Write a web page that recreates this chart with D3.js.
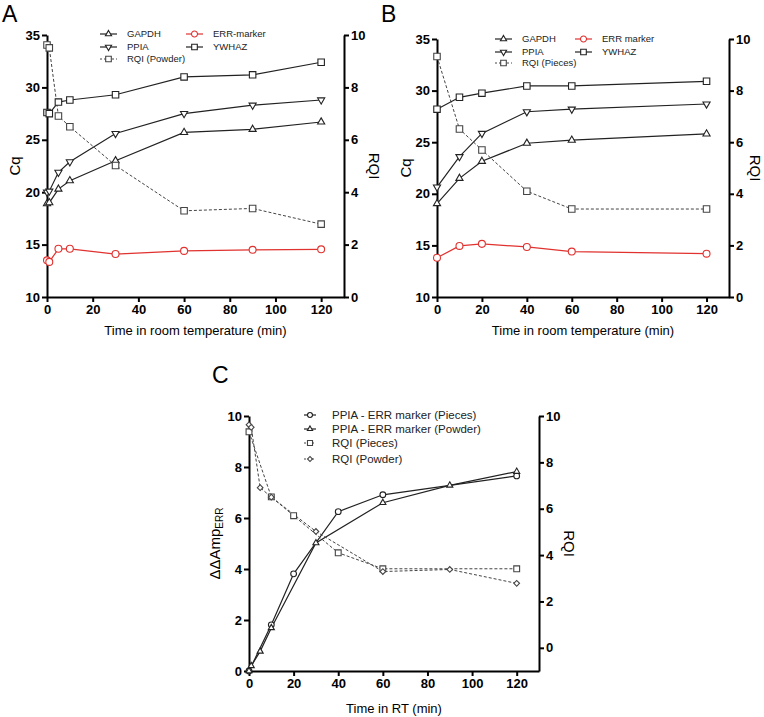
<!DOCTYPE html>
<html>
<head>
<meta charset="utf-8">
<script src="https://cdn.jsdelivr.net/npm/d3@7"></script>
<style>
  body { margin: 0; background: #fff; }
  svg { font-family: "Liberation Sans", Arial, sans-serif; }
</style>
</head>
<body>
<div id="graph"></div>
<script>
// time points (min)
const timesA = [0, 1, 5, 10, 30, 60, 90, 120];
const timesB = [0, 10, 20, 40, 60, 120];

// panel A, powder (Cq)
const gapdhA = [18.9, 19.0, 20.3, 21.1, 23.0, 25.7, 26.0, 26.7];
const ppiaA  = [20.0, 20.1, 21.9, 22.9, 25.6, 27.5, 28.3, 28.8];
const ywhazA = [27.6, 27.5, 28.6, 28.8, 29.3, 31.0, 31.2, 32.4];
const errA   = [13.5, 13.35, 14.6, 14.6, 14.1, 14.4, 14.5, 14.55];
const rqiPowder = [9.62, 9.51, 6.91, 6.5, 5.02, 3.29, 3.38, 2.78];

// panel B, pieces (Cq)
const gapdhB = [19.05, 21.5, 23.15, 24.9, 25.2, 25.8];
const ppiaB  = [20.65, 23.6, 25.85, 27.95, 28.2, 28.7];
const ywhazB = [28.2, 29.35, 29.75, 30.45, 30.45, 30.9];
const errB   = [13.8, 14.95, 15.15, 14.85, 14.4, 14.2];
const rqiPieces = [9.32, 6.51, 5.7, 4.1, 3.41, 3.41];

// panel C, delta delta Amp
const ddAmpPieces = [0, 1.81, 3.81, 6.25, 6.91, 7.65];
const ddAmpPowder = [0, 0.2, 0.77, 1.69, 5.02, 6.6, 7.28, 7.82];

const xTicks = [0, 20, 40, 60, 80, 100, 120];
const cqTicks = [10, 15, 20, 25, 30, 35];
const rqiTicks = [0, 2, 4, 6, 8, 10];
const ampTicks = [0, 2, 4, 6, 8, 10];

const red = "#e0322f";
const svg = d3.select("#graph").append("svg").attr("width", 764).attr("height", 717);

function symbolPath(kind, size) {
  const types = { up: d3.symbolTriangle, down: d3.symbolTriangle, square: d3.symbolSquare,
                  circle: d3.symbolCircle, diamond: d3.symbolSquare };
  return d3.symbol().type(types[kind]).size(size)();
}

function drawMarker(g, kind, size, cx, cy, color) {
  let rot = "";
  if (kind == "down") rot = " rotate(180)";
  if (kind == "diamond") rot = " rotate(45)";
  g.append("path")
    .attr("d", symbolPath(kind, size))
    .attr("transform", `translate(${cx},${cy})` + rot)
    .attr("fill", "#fff")
    .attr("stroke", color)
    .attr("stroke-width", 1.1);
}

function styleAxis(a) {
  a.selectAll(".domain").attr("stroke", "#000").attr("stroke-width", 2);
  a.selectAll(".tick line").attr("stroke", "#000").attr("stroke-width", 2);
  a.selectAll(".tick text").attr("fill", "#000").attr("font-size", 13).attr("font-weight", "bold");
}

function drawPanel(p) {
  const g = svg.append("g");
  const x = d3.scaleLinear().domain([0, 130]).range([p.left, p.right]);
  const yL = d3.scaleLinear().domain(p.leftDomain).range([p.bottom, p.top]);
  const yR = d3.scaleLinear().domain(p.rightDomain).range([p.bottom, p.top]);

  styleAxis(g.append("g").attr("transform", `translate(0,${p.bottom})`)
    .call(d3.axisBottom(x).tickValues(xTicks).tickSize(5).tickSizeOuter(0).tickPadding(3)));
  styleAxis(g.append("g").attr("transform", `translate(${p.left},0)`)
    .call(d3.axisLeft(yL).tickValues(p.leftTicks).tickSize(5).tickSizeOuter(0).tickPadding(2)));
  styleAxis(g.append("g").attr("transform", `translate(${p.right},0)`)
    .call(d3.axisRight(yR).tickValues(rqiTicks).tickSize(5).tickSizeOuter(0).tickPadding(2)));

  // series
  p.series.forEach(s => {
    const y = s.axis == "right" ? yR : yL;
    const pts = s.x.map((t, i) => [x(t), y(s.y[i])]);
    g.append("path")
      .attr("d", d3.line()(pts))
      .attr("fill", "none")
      .attr("stroke", s.color)
      .attr("stroke-width", s.dash ? 1 : 1.2)
      .attr("stroke-dasharray", s.dash ? "3,2" : null);
  });
  p.series.forEach(s => {
    const y = s.axis == "right" ? yR : yL;
    s.x.forEach((t, i) => drawMarker(g, s.symbol, s.size, x(t), y(s.y[i]), s.color));
  });

  // legend
  p.series.forEach(s => {
    const L = s.legend;
    g.append("line")
      .attr("x1", L.x).attr("x2", L.x + p.legLen).attr("y1", L.y).attr("y2", L.y)
      .attr("stroke", s.color).attr("stroke-width", s.dash ? 1 : 1.2)
      .attr("stroke-dasharray", s.dash ? "2,2" : null);
    drawMarker(g, s.symbol, s.size * 0.75, L.x + p.legLen / 2, L.y, s.color);
    g.append("text")
      .attr("x", L.x + p.legLen + p.legGap).attr("y", L.y)
      .attr("dy", "0.35em")
      .attr("font-size", p.legFont)
      .attr("fill", "#222")
      .text(s.name);
  });

  // titles
  g.append("text").attr("x", p.letter[0]).attr("y", p.letter[1])
    .attr("font-size", 23).text(p.letterText);
  g.append("text")
    .attr("x", (p.left + p.right) / 2).attr("y", p.xLabelY)
    .attr("text-anchor", "middle").attr("font-size", 13)
    .text(p.xLabel);
  const yMid = (p.top + p.bottom) / 2;
  const lt = g.append("text")
    .attr("transform", `translate(${p.leftLabelX},${yMid}) rotate(-90)`)
    .attr("text-anchor", "middle").attr("font-size", 15);
  if (p.ampLabel) {
    lt.append("tspan").text("ΔΔAmp");
    lt.append("tspan").attr("font-size", 10).attr("dy", 3).text("ERR");
  } else {
    lt.text("Cq");
  }
  g.append("text")
    .attr("transform", `translate(${p.rightLabelX},${yMid}) rotate(90)`)
    .attr("text-anchor", "middle").attr("font-size", 15)
    .text("RQI");
}

drawPanel({
  left: 47, right: 344, top: 35, bottom: 297,
  leftDomain: [10, 35], rightDomain: [0, 10], leftTicks: cqTicks,
  letter: [2, 22], letterText: "A",
  xLabel: "Time in room temperature (min)", xLabelY: 335,
  leftLabelX: 20, rightLabelX: 369,
  legLen: 17, legGap: 10, legFont: 9.5,
  series: [
    { name: "GAPDH", x: timesA, y: gapdhA, symbol: "up", size: 22, color: "#222", legend: { x: 100, y: 34 } },
    { name: "PPIA", x: timesA, y: ppiaA, symbol: "down", size: 22, color: "#222", legend: { x: 100, y: 47 } },
    { name: "RQI (Powder)", x: timesA, y: rqiPowder, axis: "right", dash: true, symbol: "square", size: 42, color: "#444", legend: { x: 100, y: 59 } },
    { name: "ERR-marker", x: timesA, y: errA, symbol: "circle", size: 38, color: red, legend: { x: 186, y: 34 } },
    { name: "YWHAZ", x: timesA, y: ywhazA, symbol: "square", size: 42, color: "#222", legend: { x: 186, y: 47 } }
  ]
});

drawPanel({
  left: 437, right: 729, top: 39, bottom: 297,
  leftDomain: [10, 35], rightDomain: [0, 10], leftTicks: cqTicks,
  letter: [381, 22], letterText: "B",
  xLabel: "Time in room temperature (min)", xLabelY: 335,
  leftLabelX: 411, rightLabelX: 750,
  legLen: 17, legGap: 10, legFont: 9.5,
  series: [
    { name: "GAPDH", x: timesB, y: gapdhB, symbol: "up", size: 22, color: "#222", legend: { x: 495, y: 39 } },
    { name: "PPIA", x: timesB, y: ppiaB, symbol: "down", size: 22, color: "#222", legend: { x: 495, y: 52 } },
    { name: "RQI (Pieces)", x: timesB, y: rqiPieces, axis: "right", dash: true, symbol: "square", size: 42, color: "#444", legend: { x: 495, y: 63 } },
    { name: "ERR marker", x: timesB, y: errB, symbol: "circle", size: 38, color: red, legend: { x: 575, y: 39 } },
    { name: "YWHAZ", x: timesB, y: ywhazB, symbol: "square", size: 42, color: "#222", legend: { x: 575, y: 52 } }
  ]
});

drawPanel({
  left: 249, right: 539, top: 416, bottom: 671,
  leftDomain: [0, 10], rightDomain: [-1, 10], leftTicks: ampTicks, ampLabel: true,
  letter: [212, 383], letterText: "C",
  xLabel: "Time in RT (min)", xLabelY: 713,
  leftLabelX: 220, rightLabelX: 564,
  legLen: 12, legGap: 16, legFont: 11.5,
  series: [
    { name: "PPIA - ERR marker (Pieces)", x: timesB, y: ddAmpPieces, symbol: "circle", size: 26, color: "#222", legend: { x: 304, y: 415 } },
    { name: "PPIA - ERR marker (Powder)", x: timesA, y: ddAmpPowder, symbol: "up", size: 16, color: "#222", legend: { x: 304, y: 429 } },
    { name: "RQI (Pieces)", x: timesB, y: rqiPieces, axis: "right", dash: true, symbol: "square", size: 34, color: "#444", legend: { x: 304, y: 443 } },
    { name: "RQI (Powder)", x: timesA, y: rqiPowder, axis: "right", dash: true, symbol: "diamond", size: 16, color: "#444", legend: { x: 304, y: 459 } }
  ]
});
</script>
</body>
</html>
